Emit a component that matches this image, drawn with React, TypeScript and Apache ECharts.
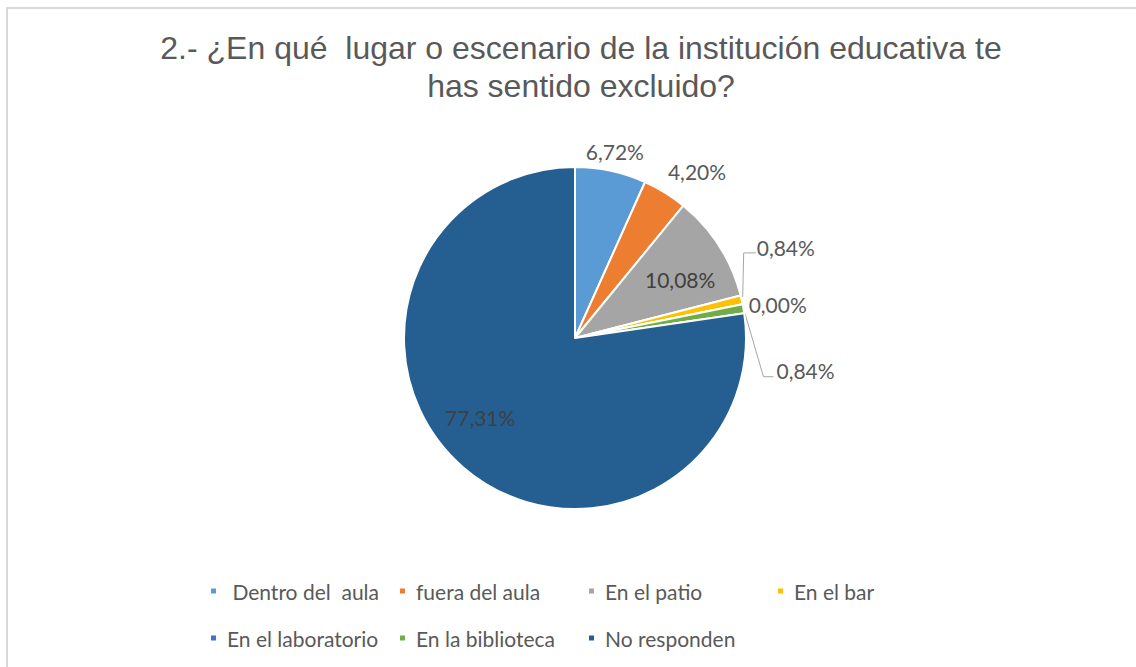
import React, { useEffect, useRef } from "react";
import * as echarts from "echarts";

const TITLE_LINES = [
  "2.- ¿En qué  lugar o escenario de la institución educativa te",
  "has sentido excluido?",
];
const CATEGORIES = [
  " Dentro del  aula",
  "fuera del aula",
  "En el patio",
  "En el bar",
  "En el laboratorio",
  "En la biblioteca",
  "No responden",
];
const VALUES = [6.72, 4.2, 10.08, 0.84, 0.0, 0.84, 77.31];
const COLORS = ["#5B9BD5", "#ED7D31", "#A5A5A5", "#FFC000", "#4472C4", "#70AD47", "#255E91"];

// layout constants
const CX = 575;
const CY = 338;
const R = 171;
// label offsets relative to the slice's outer-edge midpoint
const LABEL_OFFSETS: { dx: number; dy: number; align: string; line?: number[][] }[] = [
  { dx: 4, dy: -19, align: "center" },
  { dx: 32, dy: -21, align: "center" },
  { dx: -39, dy: 33, align: "center" },
  { dx: 15, dy: -52, align: "left", line: [[1, -3], [2, -47], [14, -47]] },
  { dx: 6, dy: 0, align: "left" },
  { dx: 33, dy: 62, align: "left", line: [[1, 3], [20, 68], [30, 68]] },
  { dx: 17, dy: -50, align: "center" },
];
const LABEL_COLORS = ["#595959", "#595959", "#404040", "#595959", "#595959", "#595959", "#404040"];

function fmt(v: number) {
  return v.toFixed(2).replace(".", ",") + "%";
}

export default function App() {
  const ref = useRef<HTMLDivElement>(null);
  useEffect(() => {
    if (!ref.current) return;
    const chart = echarts.init(ref.current, null, { renderer: "svg" });
    const total = VALUES.reduce((a, b) => a + b, 0);
    const mids: number[] = [];
    let acc = 0;
    VALUES.forEach((v) => {
      mids.push(((acc + v / 2) / total) * Math.PI * 2);
      acc += v;
    });
    const edge = (i: number) => [CX + R * Math.sin(mids[i]), CY - R * Math.cos(mids[i])];

    const legendCommon = {
      left: 209,
      orient: "horizontal" as const,
      icon: "rect",
      itemWidth: 7,
      itemHeight: 7,
      itemGap: 10,
      padding: 0,
      selectedMode: false,
      textStyle: {
        fontFamily: "Lato",
        fontSize: 21,
        color: "#595959",
        width: 161,
        lineHeight: 22,
        padding: [0, 0, 0, 5],
      },
    };

    chart.setOption({
      animation: false,
      backgroundColor: "#ffffff",
      color: COLORS,
      title: {
        text: TITLE_LINES.join("\n"),
        left: 576,
        top: 24,
        textAlign: "center",
        textStyle: {
          fontFamily: "Liberation Sans",
          fontSize: 32,
          fontWeight: "normal",
          color: "#595959",
          lineHeight: 38,
        },
      },
      graphic: [
        {
          type: "rect",
          z: -10,
          silent: true,
          shape: { x: 7, y: 8, width: 1200, height: 700 },
          style: { fill: "none", stroke: "#d9d9d9", lineWidth: 2 },
        },
      ],
      legend: [
        { ...legendCommon, top: 580, data: CATEGORIES.slice(0, 4) },
        { ...legendCommon, top: 627, data: CATEGORIES.slice(4) },
      ],
      series: [
        {
          type: "pie",
          center: [CX, CY],
          radius: R,
          startAngle: 90,
          clockwise: true,
          avoidLabelOverlap: false,
          itemStyle: { borderColor: "#ffffff", borderWidth: 2 },
          label: {
            show: true,
            position: "outside",
            fontFamily: "Lato",
            fontSize: 21,
            color: "#595959",
            formatter: (p: any) => fmt(p.value),
          },
          labelLine: { show: false, lineStyle: { color: "#a6a6a6", width: 1 } },
          emphasis: { disabled: true },
          data: CATEGORIES.map((name, i) => ({
            name,
            value: VALUES[i],
            label: { color: LABEL_COLORS[i] },
            labelLine: { show: !!LABEL_OFFSETS[i].line, length: 5, length2: 5 },
          })),
          labelLayout: (params: any) => {
            const i = params.dataIndex;
            const o = LABEL_OFFSETS[i];
            const [ex, ey] = edge(i);
            const res: any = {
              x: ex + o.dx,
              y: ey + o.dy,
              align: o.align,
              verticalAlign: "middle",
            };
            if (o.line) {
              res.labelLinePoints = o.line.map(([px, py]) => [ex + px, ey + py]);
            }
            return res;
          },
        },
      ],
    });
    return () => chart.dispose();
  }, []);
  return (
    <div
      ref={ref}
      style={{ position: "fixed", left: 0, top: 0, width: 1136, height: 667, background: "#fff" }}
    />
  );
}
